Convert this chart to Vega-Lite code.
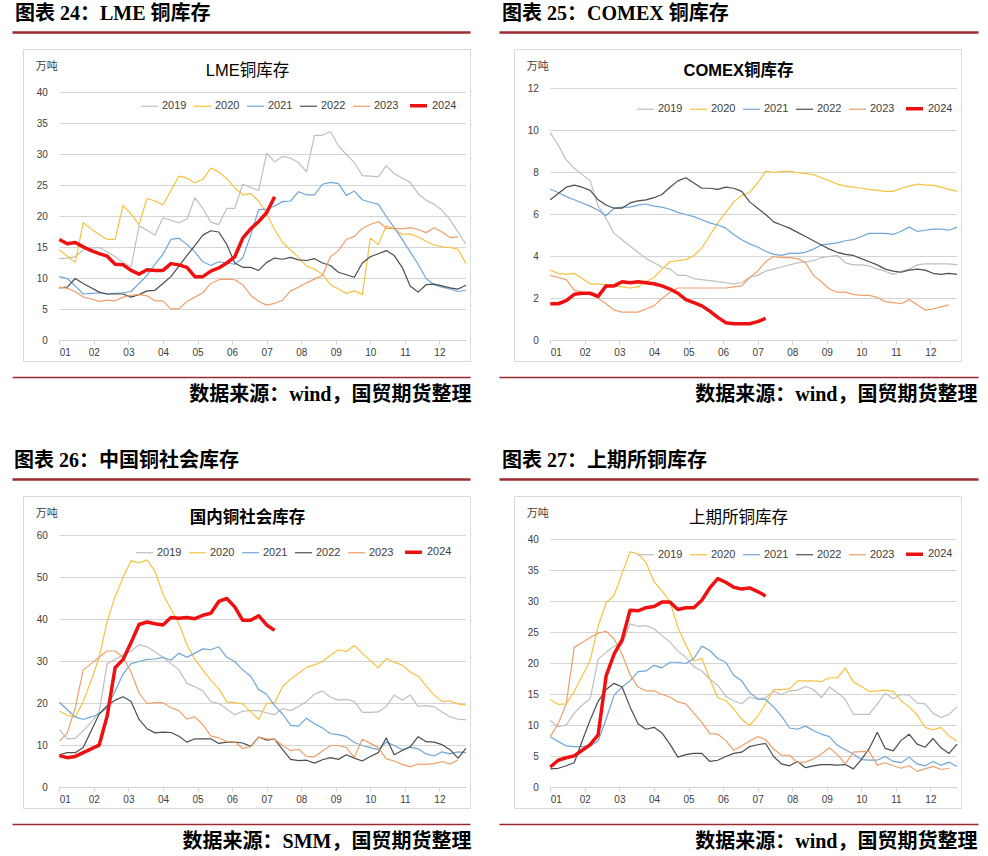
{
"$schema": "https://vega.github.io/schema/vega-lite/v6.json",
"background": "white",
"padding": {"left": 8, "top": 3, "right": 5, "bottom": 5},
"bounds": "flush",
"columns": 2,
"spacing": {"row": 135, "column": 44},
"resolve": {"scale": {"color": "independent", "strokeWidth": "independent"}, "legend": {"color": "independent", "strokeWidth": "independent"}},
"config": {
  "view": {"stroke": "#D9D9D9", "strokeWidth": 1},
  "font": "Liberation Sans, Noto Sans CJK SC",
  "axis": {"labelFont": "Liberation Sans", "labelFontSize": 10, "labelColor": "#404040", "labelOverlap": false},
  "legend": {"labelFont": "Liberation Sans", "labelFontSize": 11, "labelColor": "#404040"}
},
"datasets": {
"g40": [{"g":0},{"g":5},{"g":10},{"g":15},{"g":20},{"g":25},{"g":30},{"g":35},{"g":40}],
"g12": [{"g":0},{"g":2},{"g":4},{"g":6},{"g":8},{"g":10},{"g":12}],
"g60": [{"g":0},{"g":10},{"g":20},{"g":30},{"g":40},{"g":50},{"g":60}],
"lme": [
{"s":"2019","w":0,"v":13.2},{"s":"2019","w":1,"v":13.3},{"s":"2019","w":2,"v":13.5},{"s":"2019","w":3,"v":14.6},{"s":"2019","w":4,"v":14.9},{"s":"2019","w":5,"v":15.0},{"s":"2019","w":6,"v":14.3},{"s":"2019","w":7,"v":13.5},{"s":"2019","w":8,"v":12.6},{"s":"2019","w":9,"v":11.9},{"s":"2019","w":10,"v":18.5},{"s":"2019","w":11,"v":17.8},{"s":"2019","w":12,"v":17.0},{"s":"2019","w":13,"v":19.8},{"s":"2019","w":14,"v":19.4},{"s":"2019","w":15,"v":19.0},{"s":"2019","w":16,"v":19.6},{"s":"2019","w":17,"v":23.0},{"s":"2019","w":18,"v":21.3},{"s":"2019","w":19,"v":19.1},{"s":"2019","w":20,"v":18.7},{"s":"2019","w":21,"v":21.3},{"s":"2019","w":22,"v":21.3},{"s":"2019","w":23,"v":25.2},{"s":"2019","w":24,"v":24.7},{"s":"2019","w":25,"v":24.2},{"s":"2019","w":26,"v":30.2},{"s":"2019","w":27,"v":28.8},{"s":"2019","w":28,"v":29.7},{"s":"2019","w":29,"v":29.4},{"s":"2019","w":30,"v":28.7},{"s":"2019","w":31,"v":27.2},{"s":"2019","w":32,"v":33.1},{"s":"2019","w":33,"v":33.1},{"s":"2019","w":34,"v":33.7},{"s":"2019","w":35,"v":31.4},{"s":"2019","w":36,"v":30.0},{"s":"2019","w":37,"v":28.7},{"s":"2019","w":38,"v":26.6},{"s":"2019","w":39,"v":26.5},{"s":"2019","w":40,"v":26.4},{"s":"2019","w":41,"v":28.2},{"s":"2019","w":42,"v":26.9},{"s":"2019","w":43,"v":26.2},{"s":"2019","w":44,"v":25.5},{"s":"2019","w":45,"v":23.7},{"s":"2019","w":46,"v":22.6},{"s":"2019","w":47,"v":22.0},{"s":"2019","w":48,"v":21.0},{"s":"2019","w":49,"v":19.5},{"s":"2019","w":50,"v":17.5},{"s":"2019","w":51,"v":15.5},
{"s":"2020","w":0,"v":14.6},{"s":"2020","w":1,"v":13.6},{"s":"2020","w":2,"v":12.6},{"s":"2020","w":3,"v":19.0},{"s":"2020","w":4,"v":18.0},{"s":"2020","w":5,"v":17.1},{"s":"2020","w":6,"v":16.3},{"s":"2020","w":7,"v":16.3},{"s":"2020","w":8,"v":21.8},{"s":"2020","w":9,"v":20.4},{"s":"2020","w":10,"v":18.7},{"s":"2020","w":11,"v":22.9},{"s":"2020","w":12,"v":22.5},{"s":"2020","w":13,"v":21.9},{"s":"2020","w":14,"v":24.2},{"s":"2020","w":15,"v":26.5},{"s":"2020","w":16,"v":26.2},{"s":"2020","w":17,"v":25.4},{"s":"2020","w":18,"v":26.0},{"s":"2020","w":19,"v":27.8},{"s":"2020","w":20,"v":27.2},{"s":"2020","w":21,"v":26.1},{"s":"2020","w":22,"v":24.6},{"s":"2020","w":23,"v":23.5},{"s":"2020","w":24,"v":23.7},{"s":"2020","w":25,"v":22.5},{"s":"2020","w":26,"v":20.4},{"s":"2020","w":27,"v":17.9},{"s":"2020","w":28,"v":15.8},{"s":"2020","w":29,"v":14.6},{"s":"2020","w":30,"v":13.4},{"s":"2020","w":31,"v":12.0},{"s":"2020","w":32,"v":11.5},{"s":"2020","w":33,"v":10.7},{"s":"2020","w":34,"v":9.0},{"s":"2020","w":35,"v":8.3},{"s":"2020","w":36,"v":7.6},{"s":"2020","w":37,"v":8.0},{"s":"2020","w":38,"v":7.4},{"s":"2020","w":39,"v":16.5},{"s":"2020","w":40,"v":15.5},{"s":"2020","w":41,"v":18.5},{"s":"2020","w":42,"v":18.0},{"s":"2020","w":43,"v":17.1},{"s":"2020","w":44,"v":17.2},{"s":"2020","w":45,"v":16.7},{"s":"2020","w":46,"v":16.0},{"s":"2020","w":47,"v":15.4},{"s":"2020","w":48,"v":15.1},{"s":"2020","w":49,"v":15.0},{"s":"2020","w":50,"v":14.7},{"s":"2020","w":51,"v":12.4},
{"s":"2021","w":0,"v":10.3},{"s":"2021","w":1,"v":10.0},{"s":"2021","w":2,"v":8.8},{"s":"2021","w":3,"v":7.5},{"s":"2021","w":4,"v":7.6},{"s":"2021","w":5,"v":7.7},{"s":"2021","w":6,"v":7.5},{"s":"2021","w":7,"v":7.6},{"s":"2021","w":8,"v":7.7},{"s":"2021","w":9,"v":7.9},{"s":"2021","w":10,"v":9.2},{"s":"2021","w":11,"v":10.5},{"s":"2021","w":12,"v":12.3},{"s":"2021","w":13,"v":13.9},{"s":"2021","w":14,"v":16.3},{"s":"2021","w":15,"v":16.5},{"s":"2021","w":16,"v":15.5},{"s":"2021","w":17,"v":14.3},{"s":"2021","w":18,"v":12.7},{"s":"2021","w":19,"v":12.1},{"s":"2021","w":20,"v":12.7},{"s":"2021","w":21,"v":12.5},{"s":"2021","w":22,"v":12.3},{"s":"2021","w":23,"v":13.3},{"s":"2021","w":24,"v":17.0},{"s":"2021","w":25,"v":21.1},{"s":"2021","w":26,"v":21.2},{"s":"2021","w":27,"v":21.7},{"s":"2021","w":28,"v":22.4},{"s":"2021","w":29,"v":22.5},{"s":"2021","w":30,"v":24.0},{"s":"2021","w":31,"v":23.5},{"s":"2021","w":32,"v":23.5},{"s":"2021","w":33,"v":25.2},{"s":"2021","w":34,"v":25.5},{"s":"2021","w":35,"v":25.3},{"s":"2021","w":36,"v":23.4},{"s":"2021","w":37,"v":24.1},{"s":"2021","w":38,"v":22.7},{"s":"2021","w":39,"v":22.3},{"s":"2021","w":40,"v":22.0},{"s":"2021","w":41,"v":20.0},{"s":"2021","w":42,"v":18.2},{"s":"2021","w":43,"v":16.3},{"s":"2021","w":44,"v":14.3},{"s":"2021","w":45,"v":12.3},{"s":"2021","w":46,"v":10.0},{"s":"2021","w":47,"v":9.0},{"s":"2021","w":48,"v":8.6},{"s":"2021","w":49,"v":8.3},{"s":"2021","w":50,"v":7.9},{"s":"2021","w":51,"v":8.1},
{"s":"2022","w":0,"v":8.5},{"s":"2022","w":1,"v":8.6},{"s":"2022","w":2,"v":10.0},{"s":"2022","w":3,"v":9.2},{"s":"2022","w":4,"v":8.5},{"s":"2022","w":5,"v":7.8},{"s":"2022","w":6,"v":7.5},{"s":"2022","w":7,"v":7.5},{"s":"2022","w":8,"v":7.5},{"s":"2022","w":9,"v":7.0},{"s":"2022","w":10,"v":7.4},{"s":"2022","w":11,"v":8.0},{"s":"2022","w":12,"v":8.1},{"s":"2022","w":13,"v":9.2},{"s":"2022","w":14,"v":10.3},{"s":"2022","w":15,"v":12.0},{"s":"2022","w":16,"v":13.7},{"s":"2022","w":17,"v":15.3},{"s":"2022","w":18,"v":17.0},{"s":"2022","w":19,"v":17.7},{"s":"2022","w":20,"v":17.5},{"s":"2022","w":21,"v":15.5},{"s":"2022","w":22,"v":12.5},{"s":"2022","w":23,"v":11.8},{"s":"2022","w":24,"v":11.8},{"s":"2022","w":25,"v":11.3},{"s":"2022","w":26,"v":12.6},{"s":"2022","w":27,"v":13.3},{"s":"2022","w":28,"v":13.1},{"s":"2022","w":29,"v":13.4},{"s":"2022","w":30,"v":13.0},{"s":"2022","w":31,"v":12.9},{"s":"2022","w":32,"v":13.2},{"s":"2022","w":33,"v":12.5},{"s":"2022","w":34,"v":12.1},{"s":"2022","w":35,"v":11.0},{"s":"2022","w":36,"v":10.6},{"s":"2022","w":37,"v":10.2},{"s":"2022","w":38,"v":12.5},{"s":"2022","w":39,"v":13.5},{"s":"2022","w":40,"v":14.0},{"s":"2022","w":41,"v":14.5},{"s":"2022","w":42,"v":13.7},{"s":"2022","w":43,"v":11.8},{"s":"2022","w":44,"v":8.8},{"s":"2022","w":45,"v":7.8},{"s":"2022","w":46,"v":9.0},{"s":"2022","w":47,"v":9.1},{"s":"2022","w":48,"v":8.8},{"s":"2022","w":49,"v":8.5},{"s":"2022","w":50,"v":8.3},{"s":"2022","w":51,"v":8.9},
{"s":"2023","w":0,"v":8.6},{"s":"2023","w":1,"v":8.4},{"s":"2023","w":2,"v":7.9},{"s":"2023","w":3,"v":7.0},{"s":"2023","w":4,"v":6.7},{"s":"2023","w":5,"v":6.3},{"s":"2023","w":6,"v":6.5},{"s":"2023","w":7,"v":6.4},{"s":"2023","w":8,"v":7.0},{"s":"2023","w":9,"v":7.3},{"s":"2023","w":10,"v":7.4},{"s":"2023","w":11,"v":7.2},{"s":"2023","w":12,"v":6.4},{"s":"2023","w":13,"v":6.4},{"s":"2023","w":14,"v":5.1},{"s":"2023","w":15,"v":5.1},{"s":"2023","w":16,"v":6.3},{"s":"2023","w":17,"v":7.0},{"s":"2023","w":18,"v":7.7},{"s":"2023","w":19,"v":9.2},{"s":"2023","w":20,"v":9.8},{"s":"2023","w":21,"v":9.9},{"s":"2023","w":22,"v":9.8},{"s":"2023","w":23,"v":9.0},{"s":"2023","w":24,"v":7.3},{"s":"2023","w":25,"v":6.3},{"s":"2023","w":26,"v":5.7},{"s":"2023","w":27,"v":6.0},{"s":"2023","w":28,"v":6.5},{"s":"2023","w":29,"v":8.0},{"s":"2023","w":30,"v":8.6},{"s":"2023","w":31,"v":9.3},{"s":"2023","w":32,"v":9.9},{"s":"2023","w":33,"v":10.5},{"s":"2023","w":34,"v":13.5},{"s":"2023","w":35,"v":14.5},{"s":"2023","w":36,"v":16.3},{"s":"2023","w":37,"v":16.8},{"s":"2023","w":38,"v":18.1},{"s":"2023","w":39,"v":18.7},{"s":"2023","w":40,"v":19.2},{"s":"2023","w":41,"v":18.1},{"s":"2023","w":42,"v":18.1},{"s":"2023","w":43,"v":18.0},{"s":"2023","w":44,"v":18.2},{"s":"2023","w":45,"v":17.9},{"s":"2023","w":46,"v":17.4},{"s":"2023","w":47,"v":18.2},{"s":"2023","w":48,"v":17.5},{"s":"2023","w":49,"v":16.6},{"s":"2023","w":50,"v":16.7},
{"s":"2024","w":0,"v":16.3},{"s":"2024","w":1,"v":15.6},{"s":"2024","w":2,"v":15.8},{"s":"2024","w":3,"v":15.1},{"s":"2024","w":4,"v":14.5},{"s":"2024","w":5,"v":14.0},{"s":"2024","w":6,"v":13.6},{"s":"2024","w":7,"v":12.3},{"s":"2024","w":8,"v":12.2},{"s":"2024","w":9,"v":11.3},{"s":"2024","w":10,"v":10.7},{"s":"2024","w":11,"v":11.4},{"s":"2024","w":12,"v":11.3},{"s":"2024","w":13,"v":11.3},{"s":"2024","w":14,"v":12.4},{"s":"2024","w":15,"v":12.2},{"s":"2024","w":16,"v":11.8},{"s":"2024","w":17,"v":10.3},{"s":"2024","w":18,"v":10.3},{"s":"2024","w":19,"v":11.2},{"s":"2024","w":20,"v":11.7},{"s":"2024","w":21,"v":12.5},{"s":"2024","w":22,"v":13.5},{"s":"2024","w":23,"v":16.5},{"s":"2024","w":24,"v":18.0},{"s":"2024","w":25,"v":19.2},{"s":"2024","w":26,"v":20.6},{"s":"2024","w":27,"v":23.2}
],
"comex": [
{"s":"2019","w":0,"v":9.9},{"s":"2019","w":1,"v":9.3},{"s":"2019","w":2,"v":8.6},{"s":"2019","w":3,"v":8.2},{"s":"2019","w":4,"v":7.9},{"s":"2019","w":5,"v":7.6},{"s":"2019","w":6,"v":6.4},{"s":"2019","w":7,"v":5.8},{"s":"2019","w":8,"v":5.1},{"s":"2019","w":9,"v":4.8},{"s":"2019","w":10,"v":4.5},{"s":"2019","w":11,"v":4.2},{"s":"2019","w":12,"v":3.9},{"s":"2019","w":13,"v":3.7},{"s":"2019","w":14,"v":3.5},{"s":"2019","w":15,"v":3.4},{"s":"2019","w":16,"v":3.1},{"s":"2019","w":17,"v":3.1},{"s":"2019","w":18,"v":2.95},{"s":"2019","w":19,"v":2.9},{"s":"2019","w":20,"v":2.85},{"s":"2019","w":21,"v":2.8},{"s":"2019","w":22,"v":2.75},{"s":"2019","w":23,"v":2.7},{"s":"2019","w":24,"v":2.75},{"s":"2019","w":25,"v":3.0},{"s":"2019","w":26,"v":3.1},{"s":"2019","w":27,"v":3.3},{"s":"2019","w":28,"v":3.4},{"s":"2019","w":29,"v":3.5},{"s":"2019","w":30,"v":3.6},{"s":"2019","w":31,"v":3.7},{"s":"2019","w":32,"v":3.75},{"s":"2019","w":33,"v":3.8},{"s":"2019","w":34,"v":3.95},{"s":"2019","w":35,"v":4.0},{"s":"2019","w":36,"v":4.05},{"s":"2019","w":37,"v":3.7},{"s":"2019","w":38,"v":3.6},{"s":"2019","w":39,"v":3.6},{"s":"2019","w":40,"v":3.55},{"s":"2019","w":41,"v":3.4},{"s":"2019","w":42,"v":3.3},{"s":"2019","w":43,"v":3.15},{"s":"2019","w":44,"v":3.3},{"s":"2019","w":45,"v":3.4},{"s":"2019","w":46,"v":3.6},{"s":"2019","w":47,"v":3.65},{"s":"2019","w":48,"v":3.65},{"s":"2019","w":49,"v":3.65},{"s":"2019","w":50,"v":3.65},{"s":"2019","w":51,"v":3.6},
{"s":"2020","w":0,"v":3.35},{"s":"2020","w":1,"v":3.2},{"s":"2020","w":2,"v":3.15},{"s":"2020","w":3,"v":3.2},{"s":"2020","w":4,"v":2.95},{"s":"2020","w":5,"v":2.7},{"s":"2020","w":6,"v":2.7},{"s":"2020","w":7,"v":2.65},{"s":"2020","w":8,"v":2.6},{"s":"2020","w":9,"v":2.55},{"s":"2020","w":10,"v":2.5},{"s":"2020","w":11,"v":2.55},{"s":"2020","w":12,"v":2.8},{"s":"2020","w":13,"v":3.0},{"s":"2020","w":14,"v":3.4},{"s":"2020","w":15,"v":3.75},{"s":"2020","w":16,"v":3.8},{"s":"2020","w":17,"v":3.85},{"s":"2020","w":18,"v":4.05},{"s":"2020","w":19,"v":4.4},{"s":"2020","w":20,"v":5.0},{"s":"2020","w":21,"v":5.6},{"s":"2020","w":22,"v":6.1},{"s":"2020","w":23,"v":6.6},{"s":"2020","w":24,"v":6.9},{"s":"2020","w":25,"v":7.05},{"s":"2020","w":26,"v":7.5},{"s":"2020","w":27,"v":8.05},{"s":"2020","w":28,"v":8.0},{"s":"2020","w":29,"v":8.05},{"s":"2020","w":30,"v":8.05},{"s":"2020","w":31,"v":8.0},{"s":"2020","w":32,"v":7.95},{"s":"2020","w":33,"v":7.9},{"s":"2020","w":34,"v":7.75},{"s":"2020","w":35,"v":7.6},{"s":"2020","w":36,"v":7.45},{"s":"2020","w":37,"v":7.35},{"s":"2020","w":38,"v":7.3},{"s":"2020","w":39,"v":7.25},{"s":"2020","w":40,"v":7.2},{"s":"2020","w":41,"v":7.15},{"s":"2020","w":42,"v":7.1},{"s":"2020","w":43,"v":7.1},{"s":"2020","w":44,"v":7.25},{"s":"2020","w":45,"v":7.35},{"s":"2020","w":46,"v":7.45},{"s":"2020","w":47,"v":7.4},{"s":"2020","w":48,"v":7.4},{"s":"2020","w":49,"v":7.3},{"s":"2020","w":50,"v":7.2},{"s":"2020","w":51,"v":7.1},
{"s":"2021","w":0,"v":7.2},{"s":"2021","w":1,"v":7.05},{"s":"2021","w":2,"v":6.85},{"s":"2021","w":3,"v":6.7},{"s":"2021","w":4,"v":6.55},{"s":"2021","w":5,"v":6.4},{"s":"2021","w":6,"v":6.2},{"s":"2021","w":7,"v":5.95},{"s":"2021","w":8,"v":6.3},{"s":"2021","w":9,"v":6.35},{"s":"2021","w":10,"v":6.35},{"s":"2021","w":11,"v":6.45},{"s":"2021","w":12,"v":6.5},{"s":"2021","w":13,"v":6.4},{"s":"2021","w":14,"v":6.35},{"s":"2021","w":15,"v":6.25},{"s":"2021","w":16,"v":6.1},{"s":"2021","w":17,"v":6.0},{"s":"2021","w":18,"v":5.9},{"s":"2021","w":19,"v":5.75},{"s":"2021","w":20,"v":5.6},{"s":"2021","w":21,"v":5.5},{"s":"2021","w":22,"v":5.35},{"s":"2021","w":23,"v":5.05},{"s":"2021","w":24,"v":4.8},{"s":"2021","w":25,"v":4.6},{"s":"2021","w":26,"v":4.45},{"s":"2021","w":27,"v":4.25},{"s":"2021","w":28,"v":4.1},{"s":"2021","w":29,"v":4.05},{"s":"2021","w":30,"v":4.15},{"s":"2021","w":31,"v":4.15},{"s":"2021","w":32,"v":4.2},{"s":"2021","w":33,"v":4.35},{"s":"2021","w":34,"v":4.55},{"s":"2021","w":35,"v":4.6},{"s":"2021","w":36,"v":4.65},{"s":"2021","w":37,"v":4.75},{"s":"2021","w":38,"v":4.8},{"s":"2021","w":39,"v":4.95},{"s":"2021","w":40,"v":5.1},{"s":"2021","w":41,"v":5.1},{"s":"2021","w":42,"v":5.1},{"s":"2021","w":43,"v":5.05},{"s":"2021","w":44,"v":5.2},{"s":"2021","w":45,"v":5.4},{"s":"2021","w":46,"v":5.2},{"s":"2021","w":47,"v":5.25},{"s":"2021","w":48,"v":5.3},{"s":"2021","w":49,"v":5.3},{"s":"2021","w":50,"v":5.25},{"s":"2021","w":51,"v":5.4},
{"s":"2022","w":0,"v":6.7},{"s":"2022","w":1,"v":7.0},{"s":"2022","w":2,"v":7.3},{"s":"2022","w":3,"v":7.4},{"s":"2022","w":4,"v":7.3},{"s":"2022","w":5,"v":7.15},{"s":"2022","w":6,"v":6.7},{"s":"2022","w":7,"v":6.45},{"s":"2022","w":8,"v":6.3},{"s":"2022","w":9,"v":6.3},{"s":"2022","w":10,"v":6.55},{"s":"2022","w":11,"v":6.65},{"s":"2022","w":12,"v":6.7},{"s":"2022","w":13,"v":6.8},{"s":"2022","w":14,"v":6.95},{"s":"2022","w":15,"v":7.3},{"s":"2022","w":16,"v":7.6},{"s":"2022","w":17,"v":7.75},{"s":"2022","w":18,"v":7.5},{"s":"2022","w":19,"v":7.25},{"s":"2022","w":20,"v":7.25},{"s":"2022","w":21,"v":7.2},{"s":"2022","w":22,"v":7.3},{"s":"2022","w":23,"v":7.25},{"s":"2022","w":24,"v":7.1},{"s":"2022","w":25,"v":6.6},{"s":"2022","w":26,"v":6.3},{"s":"2022","w":27,"v":6.0},{"s":"2022","w":28,"v":5.65},{"s":"2022","w":29,"v":5.5},{"s":"2022","w":30,"v":5.35},{"s":"2022","w":31,"v":5.15},{"s":"2022","w":32,"v":4.95},{"s":"2022","w":33,"v":4.75},{"s":"2022","w":34,"v":4.55},{"s":"2022","w":35,"v":4.35},{"s":"2022","w":36,"v":4.2},{"s":"2022","w":37,"v":4.1},{"s":"2022","w":38,"v":4.05},{"s":"2022","w":39,"v":3.9},{"s":"2022","w":40,"v":3.75},{"s":"2022","w":41,"v":3.6},{"s":"2022","w":42,"v":3.4},{"s":"2022","w":43,"v":3.3},{"s":"2022","w":44,"v":3.25},{"s":"2022","w":45,"v":3.35},{"s":"2022","w":46,"v":3.4},{"s":"2022","w":47,"v":3.35},{"s":"2022","w":48,"v":3.2},{"s":"2022","w":49,"v":3.15},{"s":"2022","w":50,"v":3.2},{"s":"2022","w":51,"v":3.15},
{"s":"2023","w":0,"v":3.1},{"s":"2023","w":1,"v":3.0},{"s":"2023","w":2,"v":2.9},{"s":"2023","w":3,"v":2.4},{"s":"2023","w":4,"v":2.3},{"s":"2023","w":5,"v":2.2},{"s":"2023","w":6,"v":2.0},{"s":"2023","w":7,"v":1.75},{"s":"2023","w":8,"v":1.45},{"s":"2023","w":9,"v":1.35},{"s":"2023","w":10,"v":1.35},{"s":"2023","w":11,"v":1.35},{"s":"2023","w":12,"v":1.5},{"s":"2023","w":13,"v":1.65},{"s":"2023","w":14,"v":2.0},{"s":"2023","w":15,"v":2.3},{"s":"2023","w":16,"v":2.5},{"s":"2023","w":17,"v":2.5},{"s":"2023","w":18,"v":2.5},{"s":"2023","w":19,"v":2.5},{"s":"2023","w":20,"v":2.5},{"s":"2023","w":21,"v":2.5},{"s":"2023","w":22,"v":2.5},{"s":"2023","w":23,"v":2.55},{"s":"2023","w":24,"v":2.6},{"s":"2023","w":25,"v":3.0},{"s":"2023","w":26,"v":3.3},{"s":"2023","w":27,"v":3.75},{"s":"2023","w":28,"v":4.0},{"s":"2023","w":29,"v":3.95},{"s":"2023","w":30,"v":3.95},{"s":"2023","w":31,"v":3.9},{"s":"2023","w":32,"v":3.7},{"s":"2023","w":33,"v":3.1},{"s":"2023","w":34,"v":2.8},{"s":"2023","w":35,"v":2.45},{"s":"2023","w":36,"v":2.3},{"s":"2023","w":37,"v":2.3},{"s":"2023","w":38,"v":2.2},{"s":"2023","w":39,"v":2.15},{"s":"2023","w":40,"v":2.15},{"s":"2023","w":41,"v":2.05},{"s":"2023","w":42,"v":1.85},{"s":"2023","w":43,"v":1.8},{"s":"2023","w":44,"v":1.75},{"s":"2023","w":45,"v":1.95},{"s":"2023","w":46,"v":1.7},{"s":"2023","w":47,"v":1.45},{"s":"2023","w":48,"v":1.5},{"s":"2023","w":49,"v":1.6},{"s":"2023","w":50,"v":1.7},
{"s":"2024","w":0,"v":1.75},{"s":"2024","w":1,"v":1.75},{"s":"2024","w":2,"v":1.9},{"s":"2024","w":3,"v":2.2},{"s":"2024","w":4,"v":2.25},{"s":"2024","w":5,"v":2.25},{"s":"2024","w":6,"v":2.1},{"s":"2024","w":7,"v":2.6},{"s":"2024","w":8,"v":2.6},{"s":"2024","w":9,"v":2.8},{"s":"2024","w":10,"v":2.75},{"s":"2024","w":11,"v":2.8},{"s":"2024","w":12,"v":2.75},{"s":"2024","w":13,"v":2.7},{"s":"2024","w":14,"v":2.6},{"s":"2024","w":15,"v":2.45},{"s":"2024","w":16,"v":2.25},{"s":"2024","w":17,"v":1.95},{"s":"2024","w":18,"v":1.8},{"s":"2024","w":19,"v":1.65},{"s":"2024","w":20,"v":1.4},{"s":"2024","w":21,"v":1.1},{"s":"2024","w":22,"v":0.85},{"s":"2024","w":23,"v":0.8},{"s":"2024","w":24,"v":0.8},{"s":"2024","w":25,"v":0.8},{"s":"2024","w":26,"v":0.9},{"s":"2024","w":27,"v":1.05}
],
"social": [
{"s":"2019","w":0,"v":13.8},{"s":"2019","w":1,"v":11.6},{"s":"2019","w":2,"v":11.7},{"s":"2019","w":3,"v":13.5},{"s":"2019","w":4,"v":15.5},{"s":"2019","w":5,"v":18.0},{"s":"2019","w":6,"v":29.5},{"s":"2019","w":7,"v":30.5},{"s":"2019","w":8,"v":31.5},{"s":"2019","w":9,"v":32.5},{"s":"2019","w":10,"v":34.0},{"s":"2019","w":11,"v":33.5},{"s":"2019","w":12,"v":32.3},{"s":"2019","w":13,"v":31.0},{"s":"2019","w":14,"v":29.5},{"s":"2019","w":15,"v":28.0},{"s":"2019","w":16,"v":24.8},{"s":"2019","w":17,"v":24.0},{"s":"2019","w":18,"v":23.0},{"s":"2019","w":19,"v":20.5},{"s":"2019","w":20,"v":20.0},{"s":"2019","w":21,"v":18.7},{"s":"2019","w":22,"v":17.3},{"s":"2019","w":23,"v":18.2},{"s":"2019","w":24,"v":18.3},{"s":"2019","w":25,"v":18.3},{"s":"2019","w":26,"v":17.8},{"s":"2019","w":27,"v":17.3},{"s":"2019","w":28,"v":18.8},{"s":"2019","w":29,"v":18.3},{"s":"2019","w":30,"v":19.3},{"s":"2019","w":31,"v":20.5},{"s":"2019","w":32,"v":22.2},{"s":"2019","w":33,"v":23.0},{"s":"2019","w":34,"v":21.5},{"s":"2019","w":35,"v":20.8},{"s":"2019","w":36,"v":21.0},{"s":"2019","w":37,"v":20.5},{"s":"2019","w":38,"v":17.9},{"s":"2019","w":39,"v":17.9},{"s":"2019","w":40,"v":18.0},{"s":"2019","w":41,"v":19.3},{"s":"2019","w":42,"v":22.0},{"s":"2019","w":43,"v":20.8},{"s":"2019","w":44,"v":22.0},{"s":"2019","w":45,"v":19.3},{"s":"2019","w":46,"v":19.5},{"s":"2019","w":47,"v":19.2},{"s":"2019","w":48,"v":18.0},{"s":"2019","w":49,"v":16.8},{"s":"2019","w":50,"v":16.3},{"s":"2019","w":51,"v":16.1},
{"s":"2020","w":0,"v":18.2},{"s":"2020","w":1,"v":17.2},{"s":"2020","w":2,"v":16.8},{"s":"2020","w":3,"v":20.5},{"s":"2020","w":4,"v":25.5},{"s":"2020","w":5,"v":31.0},{"s":"2020","w":6,"v":39.5},{"s":"2020","w":7,"v":45.5},{"s":"2020","w":8,"v":50.0},{"s":"2020","w":9,"v":54.0},{"s":"2020","w":10,"v":53.5},{"s":"2020","w":11,"v":54.2},{"s":"2020","w":12,"v":51.5},{"s":"2020","w":13,"v":46.0},{"s":"2020","w":14,"v":42.5},{"s":"2020","w":15,"v":39.0},{"s":"2020","w":16,"v":34.0},{"s":"2020","w":17,"v":30.5},{"s":"2020","w":18,"v":28.0},{"s":"2020","w":19,"v":25.5},{"s":"2020","w":20,"v":23.5},{"s":"2020","w":21,"v":20.4},{"s":"2020","w":22,"v":20.2},{"s":"2020","w":23,"v":19.9},{"s":"2020","w":24,"v":18.0},{"s":"2020","w":25,"v":16.2},{"s":"2020","w":26,"v":20.0},{"s":"2020","w":27,"v":20.2},{"s":"2020","w":28,"v":24.0},{"s":"2020","w":29,"v":25.8},{"s":"2020","w":30,"v":27.2},{"s":"2020","w":31,"v":28.6},{"s":"2020","w":32,"v":29.2},{"s":"2020","w":33,"v":30.0},{"s":"2020","w":34,"v":31.5},{"s":"2020","w":35,"v":32.8},{"s":"2020","w":36,"v":32.4},{"s":"2020","w":37,"v":33.8},{"s":"2020","w":38,"v":32.0},{"s":"2020","w":39,"v":30.2},{"s":"2020","w":40,"v":28.5},{"s":"2020","w":41,"v":30.7},{"s":"2020","w":42,"v":29.8},{"s":"2020","w":43,"v":29.2},{"s":"2020","w":44,"v":27.5},{"s":"2020","w":45,"v":26.5},{"s":"2020","w":46,"v":24.2},{"s":"2020","w":47,"v":22.0},{"s":"2020","w":48,"v":20.5},{"s":"2020","w":49,"v":20.6},{"s":"2020","w":50,"v":19.9},{"s":"2020","w":51,"v":19.6},
{"s":"2021","w":0,"v":20.3},{"s":"2021","w":1,"v":18.5},{"s":"2021","w":2,"v":16.8},{"s":"2021","w":3,"v":16.2},{"s":"2021","w":4,"v":16.8},{"s":"2021","w":5,"v":17.5},{"s":"2021","w":6,"v":19.0},{"s":"2021","w":7,"v":23.0},{"s":"2021","w":8,"v":27.0},{"s":"2021","w":9,"v":29.5},{"s":"2021","w":10,"v":30.0},{"s":"2021","w":11,"v":30.5},{"s":"2021","w":12,"v":30.6},{"s":"2021","w":13,"v":31.0},{"s":"2021","w":14,"v":30.3},{"s":"2021","w":15,"v":32.0},{"s":"2021","w":16,"v":31.0},{"s":"2021","w":17,"v":32.0},{"s":"2021","w":18,"v":33.0},{"s":"2021","w":19,"v":32.8},{"s":"2021","w":20,"v":33.5},{"s":"2021","w":21,"v":31.0},{"s":"2021","w":22,"v":30.0},{"s":"2021","w":23,"v":28.0},{"s":"2021","w":24,"v":26.5},{"s":"2021","w":25,"v":23.3},{"s":"2021","w":26,"v":22.2},{"s":"2021","w":27,"v":19.5},{"s":"2021","w":28,"v":17.5},{"s":"2021","w":29,"v":14.8},{"s":"2021","w":30,"v":14.6},{"s":"2021","w":31,"v":16.5},{"s":"2021","w":32,"v":15.2},{"s":"2021","w":33,"v":14.2},{"s":"2021","w":34,"v":12.8},{"s":"2021","w":35,"v":12.6},{"s":"2021","w":36,"v":12.1},{"s":"2021","w":37,"v":10.7},{"s":"2021","w":38,"v":10.0},{"s":"2021","w":39,"v":9.5},{"s":"2021","w":40,"v":9.0},{"s":"2021","w":41,"v":10.8},{"s":"2021","w":42,"v":10.0},{"s":"2021","w":43,"v":9.0},{"s":"2021","w":44,"v":9.6},{"s":"2021","w":45,"v":9.2},{"s":"2021","w":46,"v":8.0},{"s":"2021","w":47,"v":7.5},{"s":"2021","w":48,"v":8.5},{"s":"2021","w":49,"v":8.0},{"s":"2021","w":50,"v":8.5},{"s":"2021","w":51,"v":8.3},
{"s":"2022","w":0,"v":7.8},{"s":"2022","w":1,"v":8.3},{"s":"2022","w":2,"v":8.3},{"s":"2022","w":3,"v":9.5},{"s":"2022","w":4,"v":13.5},{"s":"2022","w":5,"v":17.5},{"s":"2022","w":6,"v":19.5},{"s":"2022","w":7,"v":20.8},{"s":"2022","w":8,"v":21.6},{"s":"2022","w":9,"v":20.5},{"s":"2022","w":10,"v":16.2},{"s":"2022","w":11,"v":14.0},{"s":"2022","w":12,"v":13.0},{"s":"2022","w":13,"v":13.2},{"s":"2022","w":14,"v":13.1},{"s":"2022","w":15,"v":12.2},{"s":"2022","w":16,"v":10.8},{"s":"2022","w":17,"v":11.6},{"s":"2022","w":18,"v":11.6},{"s":"2022","w":19,"v":11.6},{"s":"2022","w":20,"v":10.5},{"s":"2022","w":21,"v":10.8},{"s":"2022","w":22,"v":10.8},{"s":"2022","w":23,"v":10.6},{"s":"2022","w":24,"v":9.8},{"s":"2022","w":25,"v":12.0},{"s":"2022","w":26,"v":11.3},{"s":"2022","w":27,"v":11.5},{"s":"2022","w":28,"v":9.0},{"s":"2022","w":29,"v":6.7},{"s":"2022","w":30,"v":6.4},{"s":"2022","w":31,"v":6.5},{"s":"2022","w":32,"v":5.8},{"s":"2022","w":33,"v":6.6},{"s":"2022","w":34,"v":7.1},{"s":"2022","w":35,"v":6.7},{"s":"2022","w":36,"v":7.8},{"s":"2022","w":37,"v":7.0},{"s":"2022","w":38,"v":6.3},{"s":"2022","w":39,"v":7.4},{"s":"2022","w":40,"v":8.3},{"s":"2022","w":41,"v":11.8},{"s":"2022","w":42,"v":7.8},{"s":"2022","w":43,"v":8.8},{"s":"2022","w":44,"v":9.7},{"s":"2022","w":45,"v":12.1},{"s":"2022","w":46,"v":10.9},{"s":"2022","w":47,"v":10.8},{"s":"2022","w":48,"v":10.2},{"s":"2022","w":49,"v":9.0},{"s":"2022","w":50,"v":7.0},{"s":"2022","w":51,"v":9.3},
{"s":"2023","w":0,"v":11.0},{"s":"2023","w":1,"v":13.0},{"s":"2023","w":2,"v":19.0},{"s":"2023","w":3,"v":28.0},{"s":"2023","w":4,"v":29.5},{"s":"2023","w":5,"v":31.0},{"s":"2023","w":6,"v":32.5},{"s":"2023","w":7,"v":32.5},{"s":"2023","w":8,"v":31.0},{"s":"2023","w":9,"v":27.5},{"s":"2023","w":10,"v":22.5},{"s":"2023","w":11,"v":20.0},{"s":"2023","w":12,"v":20.2},{"s":"2023","w":13,"v":20.2},{"s":"2023","w":14,"v":19.0},{"s":"2023","w":15,"v":18.3},{"s":"2023","w":16,"v":16.3},{"s":"2023","w":17,"v":16.8},{"s":"2023","w":18,"v":15.0},{"s":"2023","w":19,"v":12.3},{"s":"2023","w":20,"v":11.8},{"s":"2023","w":21,"v":11.0},{"s":"2023","w":22,"v":10.9},{"s":"2023","w":23,"v":9.3},{"s":"2023","w":24,"v":9.7},{"s":"2023","w":25,"v":12.0},{"s":"2023","w":26,"v":11.6},{"s":"2023","w":27,"v":11.5},{"s":"2023","w":28,"v":10.0},{"s":"2023","w":29,"v":8.8},{"s":"2023","w":30,"v":9.1},{"s":"2023","w":31,"v":7.4},{"s":"2023","w":32,"v":7.3},{"s":"2023","w":33,"v":8.7},{"s":"2023","w":34,"v":10.0},{"s":"2023","w":35,"v":10.0},{"s":"2023","w":36,"v":9.5},{"s":"2023","w":37,"v":7.2},{"s":"2023","w":38,"v":11.5},{"s":"2023","w":39,"v":10.5},{"s":"2023","w":40,"v":9.5},{"s":"2023","w":41,"v":6.8},{"s":"2023","w":42,"v":6.3},{"s":"2023","w":43,"v":5.5},{"s":"2023","w":44,"v":4.9},{"s":"2023","w":45,"v":5.6},{"s":"2023","w":46,"v":5.5},{"s":"2023","w":47,"v":5.7},{"s":"2023","w":48,"v":6.2},{"s":"2023","w":49,"v":5.6},{"s":"2023","w":50,"v":6.6},
{"s":"2024","w":0,"v":7.6},{"s":"2024","w":1,"v":7.1},{"s":"2024","w":2,"v":7.4},{"s":"2024","w":3,"v":8.3},{"s":"2024","w":4,"v":9.2},{"s":"2024","w":5,"v":10.1},{"s":"2024","w":6,"v":17.0},{"s":"2024","w":7,"v":28.5},{"s":"2024","w":8,"v":30.5},{"s":"2024","w":9,"v":34.5},{"s":"2024","w":10,"v":38.8},{"s":"2024","w":11,"v":39.4},{"s":"2024","w":12,"v":39.0},{"s":"2024","w":13,"v":38.7},{"s":"2024","w":14,"v":40.5},{"s":"2024","w":15,"v":40.3},{"s":"2024","w":16,"v":40.5},{"s":"2024","w":17,"v":40.2},{"s":"2024","w":18,"v":41.0},{"s":"2024","w":19,"v":41.5},{"s":"2024","w":20,"v":44.3},{"s":"2024","w":21,"v":45.0},{"s":"2024","w":22,"v":43.0},{"s":"2024","w":23,"v":39.8},{"s":"2024","w":24,"v":39.8},{"s":"2024","w":25,"v":40.9},{"s":"2024","w":26,"v":38.7},{"s":"2024","w":27,"v":37.4}
],
"shfe": [
{"s":"2019","w":0,"v":10.8},{"s":"2019","w":1,"v":9.8},{"s":"2019","w":2,"v":10.1},{"s":"2019","w":3,"v":12.0},{"s":"2019","w":4,"v":13.3},{"s":"2019","w":5,"v":14.3},{"s":"2019","w":6,"v":20.7},{"s":"2019","w":7,"v":21.8},{"s":"2019","w":8,"v":22.8},{"s":"2019","w":9,"v":23.0},{"s":"2019","w":10,"v":26.4},{"s":"2019","w":11,"v":26.0},{"s":"2019","w":12,"v":26.1},{"s":"2019","w":13,"v":25.6},{"s":"2019","w":14,"v":24.5},{"s":"2019","w":15,"v":23.5},{"s":"2019","w":16,"v":22.0},{"s":"2019","w":17,"v":21.0},{"s":"2019","w":18,"v":19.5},{"s":"2019","w":19,"v":18.8},{"s":"2019","w":20,"v":17.5},{"s":"2019","w":21,"v":16.5},{"s":"2019","w":22,"v":14.7},{"s":"2019","w":23,"v":14.0},{"s":"2019","w":24,"v":13.5},{"s":"2019","w":25,"v":14.6},{"s":"2019","w":26,"v":14.2},{"s":"2019","w":27,"v":14.5},{"s":"2019","w":28,"v":15.5},{"s":"2019","w":29,"v":15.0},{"s":"2019","w":30,"v":15.6},{"s":"2019","w":31,"v":15.7},{"s":"2019","w":32,"v":16.3},{"s":"2019","w":33,"v":15.8},{"s":"2019","w":34,"v":14.5},{"s":"2019","w":35,"v":16.2},{"s":"2019","w":36,"v":15.3},{"s":"2019","w":37,"v":14.2},{"s":"2019","w":38,"v":11.8},{"s":"2019","w":39,"v":11.8},{"s":"2019","w":40,"v":11.8},{"s":"2019","w":41,"v":13.5},{"s":"2019","w":42,"v":15.2},{"s":"2019","w":43,"v":14.3},{"s":"2019","w":44,"v":15.0},{"s":"2019","w":45,"v":14.9},{"s":"2019","w":46,"v":13.6},{"s":"2019","w":47,"v":13.5},{"s":"2019","w":48,"v":12.0},{"s":"2019","w":49,"v":11.3},{"s":"2019","w":50,"v":11.8},{"s":"2019","w":51,"v":13.0},
{"s":"2020","w":0,"v":14.2},{"s":"2020","w":1,"v":13.4},{"s":"2020","w":2,"v":13.5},{"s":"2020","w":3,"v":15.5},{"s":"2020","w":4,"v":18.0},{"s":"2020","w":5,"v":20.5},{"s":"2020","w":6,"v":26.0},{"s":"2020","w":7,"v":29.8},{"s":"2020","w":8,"v":31.0},{"s":"2020","w":9,"v":34.5},{"s":"2020","w":10,"v":38.0},{"s":"2020","w":11,"v":37.7},{"s":"2020","w":12,"v":36.3},{"s":"2020","w":13,"v":33.2},{"s":"2020","w":14,"v":31.7},{"s":"2020","w":15,"v":30.0},{"s":"2020","w":16,"v":25.8},{"s":"2020","w":17,"v":23.0},{"s":"2020","w":18,"v":20.4},{"s":"2020","w":19,"v":20.8},{"s":"2020","w":20,"v":17.5},{"s":"2020","w":21,"v":14.5},{"s":"2020","w":22,"v":14.0},{"s":"2020","w":23,"v":12.7},{"s":"2020","w":24,"v":11.0},{"s":"2020","w":25,"v":10.0},{"s":"2020","w":26,"v":11.5},{"s":"2020","w":27,"v":13.5},{"s":"2020","w":28,"v":15.8},{"s":"2020","w":29,"v":15.8},{"s":"2020","w":30,"v":15.9},{"s":"2020","w":31,"v":17.2},{"s":"2020","w":32,"v":17.2},{"s":"2020","w":33,"v":17.2},{"s":"2020","w":34,"v":17.1},{"s":"2020","w":35,"v":17.7},{"s":"2020","w":36,"v":17.7},{"s":"2020","w":37,"v":19.3},{"s":"2020","w":38,"v":17.0},{"s":"2020","w":39,"v":16.3},{"s":"2020","w":40,"v":15.5},{"s":"2020","w":41,"v":15.6},{"s":"2020","w":42,"v":15.7},{"s":"2020","w":43,"v":15.5},{"s":"2020","w":44,"v":14.0},{"s":"2020","w":45,"v":13.0},{"s":"2020","w":46,"v":11.7},{"s":"2020","w":47,"v":9.7},{"s":"2020","w":48,"v":9.3},{"s":"2020","w":49,"v":9.7},{"s":"2020","w":50,"v":8.3},{"s":"2020","w":51,"v":7.5},
{"s":"2021","w":0,"v":8.2},{"s":"2021","w":1,"v":7.4},{"s":"2021","w":2,"v":6.7},{"s":"2021","w":3,"v":6.6},{"s":"2021","w":4,"v":6.6},{"s":"2021","w":5,"v":6.7},{"s":"2021","w":6,"v":7.5},{"s":"2021","w":7,"v":11.0},{"s":"2021","w":8,"v":14.9},{"s":"2021","w":9,"v":16.2},{"s":"2021","w":10,"v":17.2},{"s":"2021","w":11,"v":18.7},{"s":"2021","w":12,"v":18.8},{"s":"2021","w":13,"v":19.7},{"s":"2021","w":14,"v":19.3},{"s":"2021","w":15,"v":20.2},{"s":"2021","w":16,"v":20.2},{"s":"2021","w":17,"v":20.0},{"s":"2021","w":18,"v":20.8},{"s":"2021","w":19,"v":22.8},{"s":"2021","w":20,"v":22.1},{"s":"2021","w":21,"v":20.8},{"s":"2021","w":22,"v":20.2},{"s":"2021","w":23,"v":18.1},{"s":"2021","w":24,"v":17.2},{"s":"2021","w":25,"v":15.3},{"s":"2021","w":26,"v":14.3},{"s":"2021","w":27,"v":14.2},{"s":"2021","w":28,"v":13.0},{"s":"2021","w":29,"v":11.5},{"s":"2021","w":30,"v":9.6},{"s":"2021","w":31,"v":9.4},{"s":"2021","w":32,"v":9.9},{"s":"2021","w":33,"v":9.2},{"s":"2021","w":34,"v":8.6},{"s":"2021","w":35,"v":8.2},{"s":"2021","w":36,"v":6.8},{"s":"2021","w":37,"v":6.1},{"s":"2021","w":38,"v":5.4},{"s":"2021","w":39,"v":4.5},{"s":"2021","w":40,"v":4.4},{"s":"2021","w":41,"v":4.4},{"s":"2021","w":42,"v":5.0},{"s":"2021","w":43,"v":4.2},{"s":"2021","w":44,"v":4.0},{"s":"2021","w":45,"v":4.9},{"s":"2021","w":46,"v":3.8},{"s":"2021","w":47,"v":3.5},{"s":"2021","w":48,"v":4.2},{"s":"2021","w":49,"v":3.6},{"s":"2021","w":50,"v":4.1},{"s":"2021","w":51,"v":3.4},
{"s":"2022","w":0,"v":3.0},{"s":"2022","w":1,"v":3.1},{"s":"2022","w":2,"v":3.5},{"s":"2022","w":3,"v":4.0},{"s":"2022","w":4,"v":7.5},{"s":"2022","w":5,"v":10.9},{"s":"2022","w":6,"v":13.9},{"s":"2022","w":7,"v":15.8},{"s":"2022","w":8,"v":16.8},{"s":"2022","w":9,"v":16.2},{"s":"2022","w":10,"v":13.0},{"s":"2022","w":11,"v":10.3},{"s":"2022","w":12,"v":9.4},{"s":"2022","w":13,"v":9.7},{"s":"2022","w":14,"v":8.8},{"s":"2022","w":15,"v":7.0},{"s":"2022","w":16,"v":4.9},{"s":"2022","w":17,"v":5.3},{"s":"2022","w":18,"v":5.5},{"s":"2022","w":19,"v":5.5},{"s":"2022","w":20,"v":4.2},{"s":"2022","w":21,"v":4.4},{"s":"2022","w":22,"v":5.0},{"s":"2022","w":23,"v":5.5},{"s":"2022","w":24,"v":5.7},{"s":"2022","w":25,"v":6.6},{"s":"2022","w":26,"v":6.9},{"s":"2022","w":27,"v":7.1},{"s":"2022","w":28,"v":5.0},{"s":"2022","w":29,"v":3.8},{"s":"2022","w":30,"v":3.5},{"s":"2022","w":31,"v":4.2},{"s":"2022","w":32,"v":3.2},{"s":"2022","w":33,"v":3.5},{"s":"2022","w":34,"v":3.7},{"s":"2022","w":35,"v":3.7},{"s":"2022","w":36,"v":3.6},{"s":"2022","w":37,"v":3.7},{"s":"2022","w":38,"v":3.0},{"s":"2022","w":39,"v":4.5},{"s":"2022","w":40,"v":6.3},{"s":"2022","w":41,"v":8.9},{"s":"2022","w":42,"v":6.3},{"s":"2022","w":43,"v":5.9},{"s":"2022","w":44,"v":7.6},{"s":"2022","w":45,"v":8.6},{"s":"2022","w":46,"v":7.0},{"s":"2022","w":47,"v":6.5},{"s":"2022","w":48,"v":7.9},{"s":"2022","w":49,"v":6.4},{"s":"2022","w":50,"v":5.5},{"s":"2022","w":51,"v":7.0},
{"s":"2023","w":0,"v":8.2},{"s":"2023","w":1,"v":10.3},{"s":"2023","w":2,"v":13.5},{"s":"2023","w":3,"v":22.6},{"s":"2023","w":4,"v":23.4},{"s":"2023","w":5,"v":24.2},{"s":"2023","w":6,"v":24.9},{"s":"2023","w":7,"v":25.2},{"s":"2023","w":8,"v":24.0},{"s":"2023","w":9,"v":21.5},{"s":"2023","w":10,"v":18.2},{"s":"2023","w":11,"v":16.2},{"s":"2023","w":12,"v":15.6},{"s":"2023","w":13,"v":15.6},{"s":"2023","w":14,"v":15.0},{"s":"2023","w":15,"v":14.6},{"s":"2023","w":16,"v":13.8},{"s":"2023","w":17,"v":13.5},{"s":"2023","w":18,"v":12.0},{"s":"2023","w":19,"v":10.5},{"s":"2023","w":20,"v":8.7},{"s":"2023","w":21,"v":8.6},{"s":"2023","w":22,"v":7.6},{"s":"2023","w":23,"v":6.0},{"s":"2023","w":24,"v":6.7},{"s":"2023","w":25,"v":7.5},{"s":"2023","w":26,"v":8.2},{"s":"2023","w":27,"v":7.7},{"s":"2023","w":28,"v":6.2},{"s":"2023","w":29,"v":5.2},{"s":"2023","w":30,"v":5.2},{"s":"2023","w":31,"v":4.0},{"s":"2023","w":32,"v":4.1},{"s":"2023","w":33,"v":4.6},{"s":"2023","w":34,"v":5.4},{"s":"2023","w":35,"v":6.4},{"s":"2023","w":36,"v":5.3},{"s":"2023","w":37,"v":3.8},{"s":"2023","w":38,"v":5.7},{"s":"2023","w":39,"v":5.8},{"s":"2023","w":40,"v":5.8},{"s":"2023","w":41,"v":3.6},{"s":"2023","w":42,"v":4.0},{"s":"2023","w":43,"v":3.5},{"s":"2023","w":44,"v":3.1},{"s":"2023","w":45,"v":3.5},{"s":"2023","w":46,"v":2.6},{"s":"2023","w":47,"v":3.0},{"s":"2023","w":48,"v":3.4},{"s":"2023","w":49,"v":2.9},{"s":"2023","w":50,"v":3.1},
{"s":"2024","w":0,"v":3.3},{"s":"2024","w":1,"v":4.4},{"s":"2024","w":2,"v":4.8},{"s":"2024","w":3,"v":5.1},{"s":"2024","w":4,"v":6.0},{"s":"2024","w":5,"v":6.9},{"s":"2024","w":6,"v":8.5},{"s":"2024","w":7,"v":18.0},{"s":"2024","w":8,"v":21.5},{"s":"2024","w":9,"v":23.8},{"s":"2024","w":10,"v":28.6},{"s":"2024","w":11,"v":28.5},{"s":"2024","w":12,"v":29.0},{"s":"2024","w":13,"v":29.2},{"s":"2024","w":14,"v":29.9},{"s":"2024","w":15,"v":29.9},{"s":"2024","w":16,"v":28.7},{"s":"2024","w":17,"v":29.0},{"s":"2024","w":18,"v":29.0},{"s":"2024","w":19,"v":30.2},{"s":"2024","w":20,"v":32.2},{"s":"2024","w":21,"v":33.7},{"s":"2024","w":22,"v":33.1},{"s":"2024","w":23,"v":32.3},{"s":"2024","w":24,"v":32.0},{"s":"2024","w":25,"v":32.2},{"s":"2024","w":26,"v":31.6},{"s":"2024","w":27,"v":30.9}
]
},
"concat": [
{
  "width": 447, "height": 312,
  "data": {"name": "lme"},
  "title": {"text": "图表 24：LME 铜库存", "anchor": "start", "frame": "group", "dx": -8, "offset": 8, "font": "Liberation Serif, Noto Sans CJK SC", "fontSize": 20, "fontWeight": "bold", "color": "#000000"},
  "layer": [
    {"data": {"name": "g40"}, "mark": {"type": "rule", "color": "#D4D4D4", "strokeWidth": 1},
     "encoding": {
       "y": {"field": "g", "type": "quantitative", "axis": null},
       "x": {"datum": 0, "type": "quantitative", "scale": {"domain": [0, 51], "range": [36.3, 443], "nice": false, "zero": false}, "axis": null},
       "x2": {"datum": 51}}},
    {"mark": {"type": "line", "strokeJoin": "round"},
     "encoding": {
      "x": {"field": "w", "type": "quantitative", "scale": {"domain": [0, 51], "range": [36.3, 443], "nice": false, "zero": false},
            "axis": {"orient": "bottom", "offset": -21, "values": [0, 4.3333, 8.6667, 13, 17.3333, 21.6667, 26, 30.3333, 34.6667, 39, 43.3333, 47.6667], "labelExpr": "(round(datum.value*12/52)+1) < 10 ? '0' + (round(datum.value*12/52)+1) : '' + (round(datum.value*12/52)+1)", "title": null, "grid": false, "domainColor": "#D4D4D4", "tickColor": "#D4D4D4", "tickSize": 4, "labelPadding": 3}},
      "y": {"field": "v", "type": "quantitative", "scale": {"domain": [0, 40], "range": [291.5, 43.5], "nice": false},
            "axis": {"orient": "left", "offset": -36.3, "values": [0, 5, 10, 15, 20, 25, 30, 35, 40], "domain": false, "ticks": false, "grid": false, "labelPadding": 12, "title": "万吨", "titleAngle": 0, "titleX": -13, "titleY": 17, "titleAlign": "center", "titleBaseline": "middle", "titleFont": "Noto Sans CJK SC", "titleFontWeight": "normal", "titleFontSize": 11, "titleColor": "#404040"}},
      "color": {"field": "s", "type": "nominal", "scale": {"domain": ["2019", "2020", "2021", "2022", "2023", "2024"], "range": ["#BFBFBF", "#F5C242", "#6FA6D8", "#4D4D4D", "#EE9F6C", "#EE1111"]},
            "legend": {"orient": "none", "legendX": 117, "legendY": 46, "direction": "horizontal", "title": null, "symbolType": "stroke", "symbolSize": 289, "labelOffset": 3, "columnPadding": 4}},
      "strokeWidth": {"field": "s", "type": "nominal", "scale": {"type": "ordinal", "domain": ["2019", "2020", "2021", "2022", "2023", "2024"], "range": [1.2, 1.2, 1.2, 1.2, 1.2, 3.5]},
            "legend": {"orient": "none", "legendX": 117, "legendY": 46, "direction": "horizontal", "title": null, "symbolType": "stroke", "symbolSize": 289, "labelOffset": 3, "columnPadding": 4}}
     }},
    {"mark": {"type": "point", "opacity": 0},
     "encoding": {
       "y": {"field": "v", "type": "quantitative", "axis": null},
       "x": {"field": "w", "type": "quantitative", "scale": {"domain": [0, 51], "range": [-11, 447], "nice": false, "zero": false},
        "axis": {"orient": "top", "offset": 17, "domainColor": "#9B2A30", "domainWidth": 2.5, "ticks": false, "labels": false, "grid": false, "title": "LME铜库存", "titleX": 224, "titleY": 38.7, "titleAlign": "center", "titleBaseline": "middle", "titleFont": "Liberation Sans, Noto Sans CJK SC", "titleFontSize": 16.5, "titleFontWeight": "normal", "titleColor": "#000000"}}}},
    {"mark": {"type": "point", "opacity": 0},
     "encoding": {
       "y": {"field": "v", "type": "quantitative", "axis": null},
       "x": {"field": "w", "type": "quantitative", "scale": {"domain": [0, 51], "range": [-11, 447], "nice": false, "zero": false},
        "axis": {"orient": "bottom", "offset": 16, "domainColor": "#9B2A30", "domainWidth": 1.5, "ticks": false, "labels": false, "grid": false, "title": "数据来源：wind，国贸期货整理", "titleX": 448, "titleY": 17, "titleAlign": "right", "titleBaseline": "middle", "titleFont": "Liberation Serif, Noto Sans CJK SC", "titleFontSize": 20, "titleFontWeight": "bold", "titleColor": "#000000"}}}}
  ],
  "resolve": {"scale": {"x": "independent"}, "axis": {"x": "independent", "y": "independent"}}
},
{
  "width": 447, "height": 312,
  "data": {"name": "comex"},
  "title": {"text": "图表 25：COMEX 铜库存", "anchor": "start", "frame": "group", "dx": -12, "offset": 8, "font": "Liberation Serif, Noto Sans CJK SC", "fontSize": 20, "fontWeight": "bold", "color": "#000000"},
  "layer": [
    {"data": {"name": "g12"}, "mark": {"type": "rule", "color": "#D4D4D4", "strokeWidth": 1},
     "encoding": {
       "y": {"field": "g", "type": "quantitative", "axis": null},
       "x": {"datum": 0, "type": "quantitative", "scale": {"domain": [0, 51], "range": [36.3, 443], "nice": false, "zero": false}, "axis": null},
       "x2": {"datum": 51}}},
    {"mark": {"type": "line", "strokeJoin": "round"},
     "encoding": {
      "x": {"field": "w", "type": "quantitative", "scale": {"domain": [0, 51], "range": [36.3, 443], "nice": false, "zero": false},
            "axis": {"orient": "bottom", "offset": -21, "values": [0, 4.3333, 8.6667, 13, 17.3333, 21.6667, 26, 30.3333, 34.6667, 39, 43.3333, 47.6667], "labelExpr": "(round(datum.value*12/52)+1) < 10 ? '0' + (round(datum.value*12/52)+1) : '' + (round(datum.value*12/52)+1)", "title": null, "grid": false, "domainColor": "#D4D4D4", "tickColor": "#D4D4D4", "tickSize": 4, "labelPadding": 3}},
      "y": {"field": "v", "type": "quantitative", "scale": {"domain": [0, 12], "range": [291.5, 39.5], "nice": false},
            "axis": {"orient": "left", "offset": -36.3, "values": [0, 2, 4, 6, 8, 10, 12], "domain": false, "ticks": false, "grid": false, "labelPadding": 12, "title": "万吨", "titleAngle": 0, "titleX": -13, "titleY": 17, "titleAlign": "center", "titleBaseline": "middle", "titleFont": "Noto Sans CJK SC", "titleFontWeight": "normal", "titleFontSize": 11, "titleColor": "#404040"}},
      "color": {"field": "s", "type": "nominal", "scale": {"domain": ["2019", "2020", "2021", "2022", "2023", "2024"], "range": ["#BFBFBF", "#F5C242", "#6FA6D8", "#4D4D4D", "#EE9F6C", "#EE1111"]},
            "legend": {"orient": "none", "legendX": 122, "legendY": 49, "direction": "horizontal", "title": null, "symbolType": "stroke", "symbolSize": 289, "labelOffset": 3, "columnPadding": 4}},
      "strokeWidth": {"field": "s", "type": "nominal", "scale": {"type": "ordinal", "domain": ["2019", "2020", "2021", "2022", "2023", "2024"], "range": [1.2, 1.2, 1.2, 1.2, 1.2, 3.5]},
            "legend": {"orient": "none", "legendX": 122, "legendY": 49, "direction": "horizontal", "title": null, "symbolType": "stroke", "symbolSize": 289, "labelOffset": 3, "columnPadding": 4}}
     }},
    {"mark": {"type": "point", "opacity": 0},
     "encoding": {
       "y": {"field": "v", "type": "quantitative", "axis": null},
       "x": {"field": "w", "type": "quantitative", "scale": {"domain": [0, 51], "range": [-15, 464], "nice": false, "zero": false},
        "axis": {"orient": "top", "offset": 17, "domainColor": "#9B2A30", "domainWidth": 2.5, "ticks": false, "labels": false, "grid": false, "title": "COMEX铜库存", "titleX": 224, "titleY": 38.7, "titleAlign": "center", "titleBaseline": "middle", "titleFont": "Liberation Sans, Noto Sans CJK SC", "titleFontSize": 16.5, "titleFontWeight": "bold", "titleColor": "#000000"}}}},
    {"mark": {"type": "point", "opacity": 0},
     "encoding": {
       "y": {"field": "v", "type": "quantitative", "axis": null},
       "x": {"field": "w", "type": "quantitative", "scale": {"domain": [0, 51], "range": [-15, 464], "nice": false, "zero": false},
        "axis": {"orient": "bottom", "offset": 16, "domainColor": "#9B2A30", "domainWidth": 1.5, "ticks": false, "labels": false, "grid": false, "title": "数据来源：wind，国贸期货整理", "titleX": 463, "titleY": 17, "titleAlign": "right", "titleBaseline": "middle", "titleFont": "Liberation Serif, Noto Sans CJK SC", "titleFontSize": 20, "titleFontWeight": "bold", "titleColor": "#000000"}}}}
  ],
  "resolve": {"scale": {"x": "independent"}, "axis": {"x": "independent", "y": "independent"}}
},
{
  "width": 447, "height": 312,
  "data": {"name": "social"},
  "title": {"text": "图表 26：中国铜社会库存", "anchor": "start", "frame": "group", "dx": -9, "offset": 8, "font": "Liberation Serif, Noto Sans CJK SC", "fontSize": 20, "fontWeight": "bold", "color": "#000000"},
  "layer": [
    {"data": {"name": "g60"}, "mark": {"type": "rule", "color": "#D4D4D4", "strokeWidth": 1},
     "encoding": {
       "y": {"field": "g", "type": "quantitative", "axis": null},
       "x": {"datum": 0, "type": "quantitative", "scale": {"domain": [0, 51], "range": [36.3, 443], "nice": false, "zero": false}, "axis": null},
       "x2": {"datum": 51}}},
    {"mark": {"type": "line", "strokeJoin": "round"},
     "encoding": {
      "x": {"field": "w", "type": "quantitative", "scale": {"domain": [0, 51], "range": [36.3, 443], "nice": false, "zero": false},
            "axis": {"orient": "bottom", "offset": -21, "values": [0, 4.3333, 8.6667, 13, 17.3333, 21.6667, 26, 30.3333, 34.6667, 39, 43.3333, 47.6667], "labelExpr": "(round(datum.value*12/52)+1) < 10 ? '0' + (round(datum.value*12/52)+1) : '' + (round(datum.value*12/52)+1)", "title": null, "grid": false, "domainColor": "#D4D4D4", "tickColor": "#D4D4D4", "tickSize": 4, "labelPadding": 3}},
      "y": {"field": "v", "type": "quantitative", "scale": {"domain": [0, 60], "range": [291.5, 39.5], "nice": false},
            "axis": {"orient": "left", "offset": -36.3, "values": [0, 10, 20, 30, 40, 50, 60], "domain": false, "ticks": false, "grid": false, "labelPadding": 12, "title": "万吨", "titleAngle": 0, "titleX": -13, "titleY": 17, "titleAlign": "center", "titleBaseline": "middle", "titleFont": "Noto Sans CJK SC", "titleFontWeight": "normal", "titleFontSize": 11, "titleColor": "#404040"}},
      "color": {"field": "s", "type": "nominal", "scale": {"domain": ["2019", "2020", "2021", "2022", "2023", "2024"], "range": ["#BFBFBF", "#F5C242", "#6FA6D8", "#4D4D4D", "#EE9F6C", "#EE1111"]},
            "legend": {"orient": "none", "legendX": 112, "legendY": 45.5, "direction": "horizontal", "title": null, "symbolType": "stroke", "symbolSize": 289, "labelOffset": 3, "columnPadding": 4}},
      "strokeWidth": {"field": "s", "type": "nominal", "scale": {"type": "ordinal", "domain": ["2019", "2020", "2021", "2022", "2023", "2024"], "range": [1.2, 1.2, 1.2, 1.2, 1.2, 3.5]},
            "legend": {"orient": "none", "legendX": 112, "legendY": 45.5, "direction": "horizontal", "title": null, "symbolType": "stroke", "symbolSize": 289, "labelOffset": 3, "columnPadding": 4}}
     }},
    {"mark": {"type": "point", "opacity": 0},
     "encoding": {
       "y": {"field": "v", "type": "quantitative", "axis": null},
       "x": {"field": "w", "type": "quantitative", "scale": {"domain": [0, 51], "range": [-11, 447], "nice": false, "zero": false},
        "axis": {"orient": "top", "offset": 17, "domainColor": "#9B2A30", "domainWidth": 2.5, "ticks": false, "labels": false, "grid": false, "title": "国内铜社会库存", "titleX": 224, "titleY": 38.7, "titleAlign": "center", "titleBaseline": "middle", "titleFont": "Liberation Sans, Noto Sans CJK SC", "titleFontSize": 16.5, "titleFontWeight": "bold", "titleColor": "#000000"}}}},
    {"mark": {"type": "point", "opacity": 0},
     "encoding": {
       "y": {"field": "v", "type": "quantitative", "axis": null},
       "x": {"field": "w", "type": "quantitative", "scale": {"domain": [0, 51], "range": [-11, 447], "nice": false, "zero": false},
        "axis": {"orient": "bottom", "offset": 16, "domainColor": "#9B2A30", "domainWidth": 1.5, "ticks": false, "labels": false, "grid": false, "title": "数据来源：SMM，国贸期货整理", "titleX": 448, "titleY": 17, "titleAlign": "right", "titleBaseline": "middle", "titleFont": "Liberation Serif, Noto Sans CJK SC", "titleFontSize": 20, "titleFontWeight": "bold", "titleColor": "#000000"}}}}
  ],
  "resolve": {"scale": {"x": "independent"}, "axis": {"x": "independent", "y": "independent"}}
},
{
  "width": 447, "height": 312,
  "data": {"name": "shfe"},
  "title": {"text": "图表 27：上期所铜库存", "anchor": "start", "frame": "group", "dx": -12, "offset": 8, "font": "Liberation Serif, Noto Sans CJK SC", "fontSize": 20, "fontWeight": "bold", "color": "#000000"},
  "layer": [
    {"data": {"name": "g40"}, "mark": {"type": "rule", "color": "#D4D4D4", "strokeWidth": 1},
     "encoding": {
       "y": {"field": "g", "type": "quantitative", "axis": null},
       "x": {"datum": 0, "type": "quantitative", "scale": {"domain": [0, 51], "range": [36.3, 443], "nice": false, "zero": false}, "axis": null},
       "x2": {"datum": 51}}},
    {"mark": {"type": "line", "strokeJoin": "round"},
     "encoding": {
      "x": {"field": "w", "type": "quantitative", "scale": {"domain": [0, 51], "range": [36.3, 443], "nice": false, "zero": false},
            "axis": {"orient": "bottom", "offset": -21, "values": [0, 4.3333, 8.6667, 13, 17.3333, 21.6667, 26, 30.3333, 34.6667, 39, 43.3333, 47.6667], "labelExpr": "(round(datum.value*12/52)+1) < 10 ? '0' + (round(datum.value*12/52)+1) : '' + (round(datum.value*12/52)+1)", "title": null, "grid": false, "domainColor": "#D4D4D4", "tickColor": "#D4D4D4", "tickSize": 4, "labelPadding": 3}},
      "y": {"field": "v", "type": "quantitative", "scale": {"domain": [0, 40], "range": [291.5, 43.5], "nice": false},
            "axis": {"orient": "left", "offset": -36.3, "values": [0, 5, 10, 15, 20, 25, 30, 35, 40], "domain": false, "ticks": false, "grid": false, "labelPadding": 12, "title": "万吨", "titleAngle": 0, "titleX": -13, "titleY": 17, "titleAlign": "center", "titleBaseline": "middle", "titleFont": "Noto Sans CJK SC", "titleFontWeight": "normal", "titleFontSize": 11, "titleColor": "#404040"}},
      "color": {"field": "s", "type": "nominal", "scale": {"domain": ["2019", "2020", "2021", "2022", "2023", "2024"], "range": ["#BFBFBF", "#F5C242", "#6FA6D8", "#4D4D4D", "#EE9F6C", "#EE1111"]},
            "legend": {"orient": "none", "legendX": 122, "legendY": 47.5, "direction": "horizontal", "title": null, "symbolType": "stroke", "symbolSize": 289, "labelOffset": 3, "columnPadding": 4}},
      "strokeWidth": {"field": "s", "type": "nominal", "scale": {"type": "ordinal", "domain": ["2019", "2020", "2021", "2022", "2023", "2024"], "range": [1.2, 1.2, 1.2, 1.2, 1.2, 3.5]},
            "legend": {"orient": "none", "legendX": 122, "legendY": 47.5, "direction": "horizontal", "title": null, "symbolType": "stroke", "symbolSize": 289, "labelOffset": 3, "columnPadding": 4}}
     }},
    {"mark": {"type": "point", "opacity": 0},
     "encoding": {
       "y": {"field": "v", "type": "quantitative", "axis": null},
       "x": {"field": "w", "type": "quantitative", "scale": {"domain": [0, 51], "range": [-15, 464], "nice": false, "zero": false},
        "axis": {"orient": "top", "offset": 17, "domainColor": "#9B2A30", "domainWidth": 2.5, "ticks": false, "labels": false, "grid": false, "title": "上期所铜库存", "titleX": 224, "titleY": 38.7, "titleAlign": "center", "titleBaseline": "middle", "titleFont": "Liberation Sans, Noto Sans CJK SC", "titleFontSize": 16.5, "titleFontWeight": "normal", "titleColor": "#000000"}}}},
    {"mark": {"type": "point", "opacity": 0},
     "encoding": {
       "y": {"field": "v", "type": "quantitative", "axis": null},
       "x": {"field": "w", "type": "quantitative", "scale": {"domain": [0, 51], "range": [-15, 464], "nice": false, "zero": false},
        "axis": {"orient": "bottom", "offset": 16, "domainColor": "#9B2A30", "domainWidth": 1.5, "ticks": false, "labels": false, "grid": false, "title": "数据来源：wind，国贸期货整理", "titleX": 463, "titleY": 17, "titleAlign": "right", "titleBaseline": "middle", "titleFont": "Liberation Serif, Noto Sans CJK SC", "titleFontSize": 20, "titleFontWeight": "bold", "titleColor": "#000000"}}}}
  ],
  "resolve": {"scale": {"x": "independent"}, "axis": {"x": "independent", "y": "independent"}}
}
]
}
